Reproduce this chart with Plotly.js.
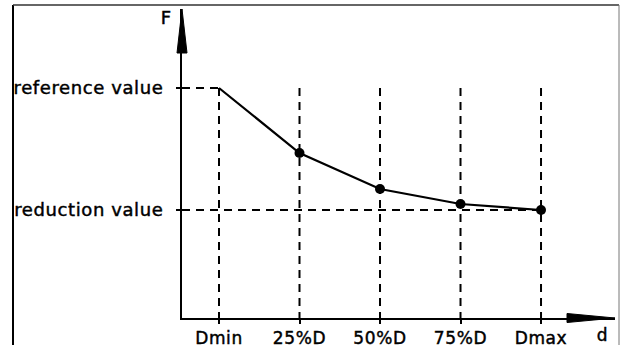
<!DOCTYPE html>
<html>
<head>
<meta charset="utf-8">
<script src="https://cdn.plot.ly/plotly-3.0.1.min.js"></script>
<style>html,body{margin:0;padding:0;background:#fff;}#chart{width:620px;height:345px;}
#chart svg text{letter-spacing:0.6px;stroke:#000;stroke-width:0.45px;}</style>
</head>
<body>
<div id="chart"></div>
<script>
// Data
const categories = ["Dmin", "25%D", "50%D", "75%D", "Dmax"];
const forceValues = [1.0, 0.467, 0.172, 0.049, 0.0];   // relative: 1 = reference value, 0 = reduction value
const yTickValues = [1.0, 0.0];
const yTickLabels = ["reference value", "reduction value"];
const referenceValue = 1.0;
const reductionValue = 0.0;
const axisLabelX = "d";
const axisLabelY = "F";

const FONT = {family: "DejaVu Sans, sans-serif", size: 18, color: "#000"};
const XFONT = {family: "DejaVu Sans, sans-serif", size: 17, color: "#000"};
const DASH = "8px,6px";
const X_MIN = -0.4596, X_MAX = 4.919, Y_MIN = -0.8852, Y_MAX = 1.6475;

const idx = categories.map((c, i) => i);
const traces = [];
// vertical dashed guide lines from reference level down to the axis
idx.forEach(i => {
  traces.push({x: [i, i], y: [referenceValue, Y_MIN], mode: "lines", type: "scatter",
    line: {color: "#000", width: 2, dash: DASH}, hoverinfo: "skip", showlegend: false});
});
// horizontal dashed guide lines
traces.push({x: [X_MIN, idx[0]], y: [referenceValue, referenceValue], mode: "lines", type: "scatter",
  line: {color: "#000", width: 2, dash: DASH}, showlegend: false, hoverinfo: "skip"});
traces.push({x: [X_MIN, idx[idx.length - 1]], y: [reductionValue, reductionValue], mode: "lines", type: "scatter",
  line: {color: "#000", width: 2, dash: DASH}, showlegend: false, hoverinfo: "skip"});
// main curve
traces.push({x: idx, y: forceValues, mode: "lines", type: "scatter",
  line: {color: "#000", width: 2.2}, showlegend: false});
traces.push({x: idx.slice(1), y: forceValues.slice(1), mode: "markers", type: "scatter",
  marker: {color: "#000", size: 10}, showlegend: false});

const W = 433, H = 309; // plot area in px
const layout = {
  width: 620, height: 345,
  margin: {l: 182, r: 5, t: 9, b: 27, pad: 0},
  paper_bgcolor: "#fff", plot_bgcolor: "#fff",
  font: FONT,
  showlegend: false,
  xaxis: {
    range: [X_MIN, X_MAX], showgrid: false, zeroline: false,
    tickvals: idx, ticktext: categories,
    showline: true, linecolor: "#000", linewidth: 2,
    ticks: "outside", ticklen: 4, tickwidth: 2, tickcolor: "#000",
    tickfont: XFONT, ticklabelstandoff: 0, fixedrange: true
  },
  yaxis: {
    range: [Y_MIN, Y_MAX], showgrid: false, zeroline: false,
    showline: true, linecolor: "#000", linewidth: 2,
    tickvals: yTickValues, ticktext: yTickLabels,
    ticks: "outside", ticklen: 4, tickwidth: 2, tickcolor: "#000",
    tickfont: FONT, ticklabelstandoff: 9, fixedrange: true
  },
  shapes: [
    // frame
    {type: "line", xref: "paper", yref: "paper", x0: (13 - 182) / W, x1: (13 - 182) / W, y0: (318 - 5) / H, y1: -0.2, line: {color: "#000", width: 2}},
    {type: "line", xref: "paper", yref: "paper", x0: (13 - 182) / W, x1: (619 - 182) / W, y0: (318 - 5) / H, y1: (318 - 5) / H, line: {color: "#333", width: 1.5}},
    {type: "line", xref: "paper", yref: "paper", x0: (619 - 182) / W, x1: (619 - 182) / W, y0: (318 - 5) / H, y1: -0.2, line: {color: "#777", width: 1}},
    // y arrowhead
    {type: "path", xref: "paper", yref: "paper",
      path: `M 0 1 L ${5 / W} ${(318 - 53) / H} L ${-5 / W} ${(318 - 53) / H} Z`,
      fillcolor: "#000", line: {color: "#000", width: 1}},
    // x arrowhead
    {type: "path", xref: "paper", yref: "paper",
      path: `M 1 0 L ${(567 - 182) / W} ${4.5 / H} L ${(567 - 182) / W} ${-4.5 / H} Z`,
      fillcolor: "#000", line: {color: "#000", width: 1}}
  ],
  annotations: [
    {xref: "paper", yref: "paper", x: (166 - 182) / W, y: (318 - 18) / H, text: axisLabelY, showarrow: false, font: FONT, xanchor: "center", yanchor: "middle"},
    {xref: "paper", yref: "paper", x: (602 - 182) / W, y: (318 - 335) / H, text: axisLabelX, showarrow: false, font: XFONT, xanchor: "center", yanchor: "middle"}
  ]
};

Plotly.newPlot("chart", traces, layout, {displayModeBar: false, staticPlot: true});
</script>
</body>
</html>
